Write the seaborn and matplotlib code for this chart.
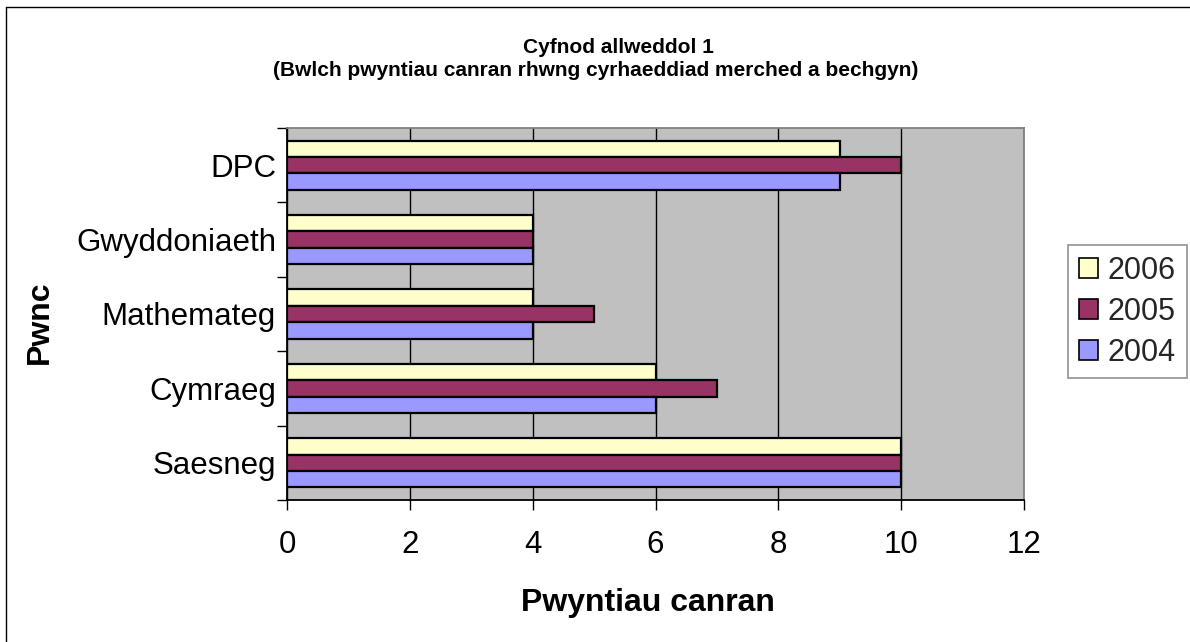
import matplotlib
matplotlib.use("Agg")
import matplotlib.pyplot as plt
import seaborn as sns
import pandas as pd
from matplotlib.patches import Patch
from matplotlib.lines import Line2D

subjects = ["DPC", "Gwyddoniaeth", "Mathemateg", "Cymraeg", "Saesneg"]
years = ["2006", "2005", "2004"]
values_2006 = [9, 4, 4, 6, 10]
values_2005 = [10, 4, 5, 7, 10]
values_2004 = [9, 4, 4, 6, 10]
colors = {"2006": "#FFFFCC", "2005": "#993366", "2004": "#9999FF"}

rows = []
for yr, vals in zip(years, [values_2006, values_2005, values_2004]):
    for s, v in zip(subjects, vals):
        rows.append({"Pwnc": s, "Blwyddyn": yr, "Gwerth": v})
df = pd.DataFrame(rows)

sns.set_theme(style="white")
plt.rcParams["font.family"] = ["Liberation Sans", "DejaVu Sans"]

W, H = 1190, 642
fig = plt.figure(figsize=(W / 100, H / 100), dpi=100)
ax = fig.add_axes([287 / W, 1 - 500 / H, (1024 - 287) / W, (500 - 128) / H])
ax.set_facecolor("#C0C0C0")

sns.barplot(data=df, y="Pwnc", x="Gwerth", hue="Blwyddyn", order=subjects,
            hue_order=years, palette=colors, orient="h", width=0.66,
            edgecolor="black", linewidth=1.6, saturation=1, ax=ax, legend=False)

ax.set_xlim(0, 12)
ax.set_ylim(4.5, -0.5)
ax.set_xticks(range(0, 13, 2))
ax.xaxis.grid(True, color="black", linewidth=1)
ax.yaxis.grid(False)
ax.set_axisbelow(True)
for sp in ax.spines.values():
    sp.set_visible(True)
    sp.set_color("#808080")
    sp.set_linewidth(1.3)
ax.spines["left"].set_color("black")
ax.spines["bottom"].set_color("black")

ax.tick_params(axis="x", which="major", direction="out", length=7, width=1,
               color="black", labelsize=22.5, pad=14.5, bottom=True, labelcolor="black")
ax.set_yticks(range(len(subjects)))
ax.set_yticklabels(subjects)
ax.tick_params(axis="y", which="major", length=0, labelsize=22.5, pad=8,
               left=True, labelcolor="black")
ax.set_yticks([i - 0.5 for i in range(len(subjects) + 1)], minor=True)
ax.tick_params(axis="y", which="minor", direction="out", length=7, width=1,
               color="black", left=True)

ax.set_xlabel("")
ax.set_ylabel("")
fig.text(648 / W, 1 - 611 / H, "Pwyntiau canran", fontsize=23, fontweight="bold",
         ha="center", va="baseline", color="black")
fig.text(40 / W, 1 - 322 / H, "Pwnc", rotation=90, fontsize=23, fontweight="bold",
         ha="center", va="center", color="black")

fig.text(618 / W, 1 - 53 / H, "Cyfnod allweddol 1", fontsize=15, fontweight="bold",
         ha="center", va="baseline", color="black")
fig.text(273 / W, 1 - 76 / H,
         "(Bwlch pwyntiau canran rhwng cyrhaeddiad merched a bechgyn)",
         fontsize=15, fontweight="bold", ha="left", va="baseline", color="black")

handles = [Patch(facecolor=colors[y], edgecolor="black", linewidth=1.2) for y in years]
leg = fig.legend(handles, years, loc="center", bbox_to_anchor=(1127.5 / W, 1 - 311.5 / H),
                 fontsize=22, frameon=True, handlelength=0.62, handleheight=0.62,
                 handletextpad=0.33, borderpad=0.35, labelspacing=0.36, fancybox=False,
                 borderaxespad=0)
leg.get_frame().set_edgecolor("#808080")
leg.get_frame().set_linewidth(1.3)

fig.lines.append(Line2D([6 / W, 6 / W], [0, 1 - 7 / H], transform=fig.transFigure,
                        color="black", linewidth=1))
fig.lines.append(Line2D([6 / W, 1], [1 - 7 / H, 1 - 7 / H], transform=fig.transFigure,
                        color="black", linewidth=1))

fig.savefig("out.png", dpi=100, facecolor="white")
